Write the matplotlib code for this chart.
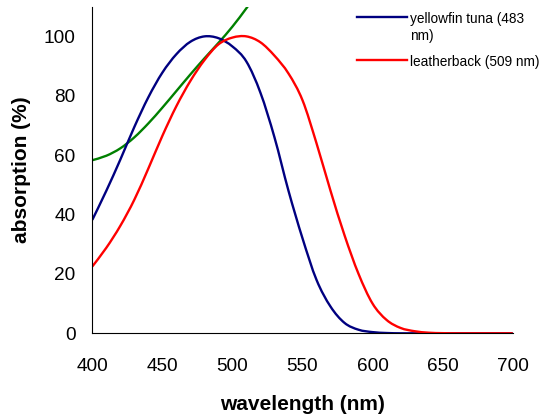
#!/usr/bin/env python3
"""Absorption spectra of yellowfin tuna and leatherback visual pigments."""

import matplotlib

matplotlib.use("Agg")
import matplotlib.pyplot as plt
from matplotlib.lines import Line2D
from matplotlib.patches import PathPatch
from matplotlib.path import Path

plt.rcParams["font.family"] = ["Liberation Sans", "DejaVu Sans"]

# values
wavelength = [400, 410, 420, 430, 440, 450, 460, 470, 480, 490, 500,
              510, 520, 530, 540, 550, 560, 570, 580, 590, 600,
              610, 620, 630, 640, 650, 660, 670, 680, 690, 700]
tuna = [38.2, 48, 58.5, 69.5, 79.5, 87.8, 94, 98.2, 100, 99.4, 96.6,
        91.5, 81, 66, 48, 32, 18, 9, 3.5, 1.2, 0.4,
        0.1, 0, 0, 0, 0, 0, 0, 0, 0, 0]
leatherback = [22.5, 28.8, 36.2, 45, 55.5, 66.5, 76.5, 85, 92, 97.3, 99.6,
               100, 98, 93.5, 87.5, 78.5, 64, 48, 33, 20, 10,
               4.5, 1.8, 0.7, 0.2, 0.05, 0, 0, 0, 0, 0]
green_wl = [400, 410, 420, 430, 440, 450, 460, 470, 480, 490, 500, 510, 520]
green = [58.3, 59.8, 62.3, 66, 70.7, 76, 81.6, 87.2, 92.6, 97.8, 103.3, 109.5, 116]

labels = ["yellowfin tuna (483\nnm)", "leatherback (509 nm)"]


def smooth_path(xs, ys):
    """Excel-style smoothed line: Catmull-Rom segments as cubic Beziers."""
    pts = list(zip(xs, ys))
    verts = [pts[0]]
    codes = [Path.MOVETO]
    for i in range(len(pts) - 1):
        p0 = pts[max(i - 1, 0)]
        p1 = pts[i]
        p2 = pts[i + 1]
        p3 = pts[min(i + 2, len(pts) - 1)]
        c1 = (p1[0] + (p2[0] - p0[0]) / 6, p1[1] + (p2[1] - p0[1]) / 6)
        c2 = (p2[0] - (p3[0] - p1[0]) / 6, p2[1] - (p3[1] - p1[1]) / 6)
        verts += [c1, c2, p2]
        codes += [Path.CURVE4] * 3
    return Path(verts, codes)


W, H = 541, 417
fig = plt.figure(figsize=(W / 100, H / 100), dpi=100)
ax = fig.add_axes([92.3 / W, 1 - 333.3 / H, (512.7 - 92.3) / W, (333.3 - 6.7) / H])

for xs, ys, color in [(green_wl, green, "#008000"),
                      (wavelength, tuna, "#000080"),
                      (wavelength, leatherback, "#ff0000")]:
    ax.add_patch(PathPatch(smooth_path(xs, ys), fill=False, edgecolor=color,
                           linewidth=1.7, capstyle="butt"))

ax.set_xlim(400, 700)
ax.set_ylim(0, 110)
ax.set_xticks(range(400, 701, 50))
ax.set_yticks(range(0, 101, 20))
ax.tick_params(length=0, labelsize=13.7)
ax.tick_params(axis="x", pad=18)
ax.tick_params(axis="y", pad=12)
for side in ("top", "right"):
    ax.spines[side].set_visible(False)
for side in ("left", "bottom"):
    ax.spines[side].set_linewidth(0.8)

ax.set_xlabel("wavelength (nm)", fontsize=15, fontweight="bold", labelpad=14)
ax.set_ylabel("absorption (%)", fontsize=15, fontweight="bold", labelpad=9)

# legend drawn by hand so the sample line sits on the first text line
for color, label, y_px in zip(["#000080", "#ff0000"], labels, [17.3, 60]):
    y = 1 - y_px / H
    fig.add_artist(Line2D([357 / W, 406.5 / W], [y, y], color=color, linewidth=1.7))
    for i, line in enumerate(label.split("\n")):
        fig.text(410 / W, 1 - (y_px + 6 + i * 16.7) / H, line, fontsize=9.8,
                 va="baseline")

fig.savefig("out.png", dpi=100)
